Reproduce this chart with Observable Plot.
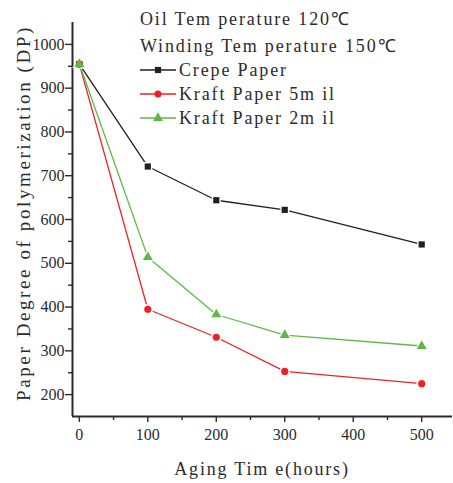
<!DOCTYPE html>
<html>
<head>
<meta charset="utf-8">
<script src="https://cdn.jsdelivr.net/npm/d3@7"></script>
<script src="https://cdn.jsdelivr.net/npm/@observablehq/plot@0.6"></script>
<style>
  html, body { margin: 0; padding: 0; background: #fff; }
</style>
</head>
<body>
<div id="chart"></div>
<script>
// ---- data ----
const hours = [0, 100, 200, 300, 500];
const crepe = [955, 721, 644, 622, 543];
const kraft5 = [955, 395, 331, 253, 225];
const kraft2 = [955, 514, 383, 336, 311];
const seriesNames = ["Crepe Paper", "Kraft Paper 5m il", "Kraft Paper 2m il"];
const seriesColors = ["#231f20", "#ed2224", "#5cb946"];
const seriesSymbols = ["square", "circle", "triangle"];
const seriesR = [3.5, 3.6, 3.7];
const xMajor = [0, 100, 200, 300, 400, 500];
const xMinor = [50, 150, 250, 350, 450];
const yMajor = [200, 300, 400, 500, 600, 700, 800, 900, 1000];
const yMinor = [250, 350, 450, 550, 650, 750, 850, 950];
const titleLines = ["Oil Tem perature 120\u2103", "Winding Tem perature 150\u2103"];
const xLabel = "Aging Tim e(hours)";
const yLabel = "Paper Degree of polymerization (DP)";

const allValues = [crepe, kraft5, kraft2];
const rows = [];
seriesNames.forEach((s, i) => hours.forEach((h, j) => rows.push({series: s, hours: h, dp: allValues[i][j]})));

const axisColor = "#2b2b2b";
const font = "'Liberation Serif', 'Times New Roman', serif";
const symbolMap = {square: d3.symbolSquare, circle: d3.symbolCircle, triangle: d3.symbolTriangle};

const plot = Plot.plot({
  width: 453,
  height: 483,
  marginLeft: 72,
  marginRight: 1,
  marginTop: 22,
  marginBottom: 67,
  style: {fontFamily: font, fontSize: "16px", color: axisColor, background: "#fff", overflow: "visible"},
  x: {domain: [-10, 545]},
  y: {domain: [150, 1050]},
  color: {domain: seriesNames, range: seriesColors},
  marks: [
    Plot.axisY(yMajor, {tickSize: 7, tickPadding: 1, tickFormat: d => String(d), label: null, strokeWidth: 1.4, fontSize: 16}),
    Plot.axisY(yMinor, {tickSize: 4, tickFormat: () => "", label: null, strokeWidth: 1.4}),
    Plot.axisX(xMajor, {tickSize: 6, tickPadding: 6, tickFormat: d => String(d), label: null, strokeWidth: 1.4, fontSize: 16}),
    Plot.axisX(xMinor, {tickSize: 4, tickFormat: () => "", label: null, strokeWidth: 1.4}),
    Plot.ruleX([-10], {stroke: axisColor, strokeWidth: 2}),
    Plot.ruleY([150], {stroke: axisColor, strokeWidth: 2}),
    Plot.line(rows, {x: "hours", y: "dp", z: "series", stroke: "series", strokeWidth: 1.3}),
    ...seriesNames.map((s, i) => Plot.dot(rows.filter(d => d.series === s), {
      x: "hours", y: "dp", symbol: () => seriesSymbols[i], r: seriesR[i] + 1.6, fill: "#fff", stroke: "none"
    })),
    ...seriesNames.map((s, i) => Plot.dot(rows.filter(d => d.series === s), {
      x: "hours", y: "dp", symbol: () => seriesSymbols[i], r: seriesR[i], fill: seriesColors[i], stroke: "none"
    }))
  ]
});

document.getElementById("chart").appendChild(plot);
const svg = d3.select(plot);

// annotation texts and legend
const ann = svg.append("g").attr("font-family", font).attr("fill", axisColor).attr("text-anchor", "start");
titleLines.forEach((t, i) => {
  ann.append("text").attr("x", 140).attr("y", [25, 52][i])
    .attr("font-size", 18).style("letter-spacing", "1.85px").text(t);
});
const legendBaselines = [76, 100, 124];
seriesNames.forEach((s, i) => {
  const cy = legendBaselines[i] - 6;
  ann.append("line").attr("x1", 140).attr("x2", 176).attr("y1", cy).attr("y2", cy)
    .attr("stroke", seriesColors[i]).attr("stroke-width", 1.3);
  const r = seriesR[i];
  ann.append("path").attr("transform", `translate(158,${cy})`)
    .attr("d", d3.symbol(symbolMap[seriesSymbols[i]], Math.PI * r * r)())
    .attr("fill", seriesColors[i]);
  ann.append("text").attr("x", 179).attr("y", legendBaselines[i])
    .attr("font-size", 18).style("letter-spacing", "1.85px").text(s);
});
// axis titles
ann.append("text").attr("x", 262).attr("y", 475).attr("text-anchor", "middle")
  .attr("font-size", 18).style("letter-spacing", "1.8px").text(xLabel);
ann.append("text").attr("transform", "translate(30,213) rotate(-90)").attr("text-anchor", "middle")
  .attr("font-size", 19).style("letter-spacing", "2.6px").text(yLabel);
</script>
</body>
</html>
